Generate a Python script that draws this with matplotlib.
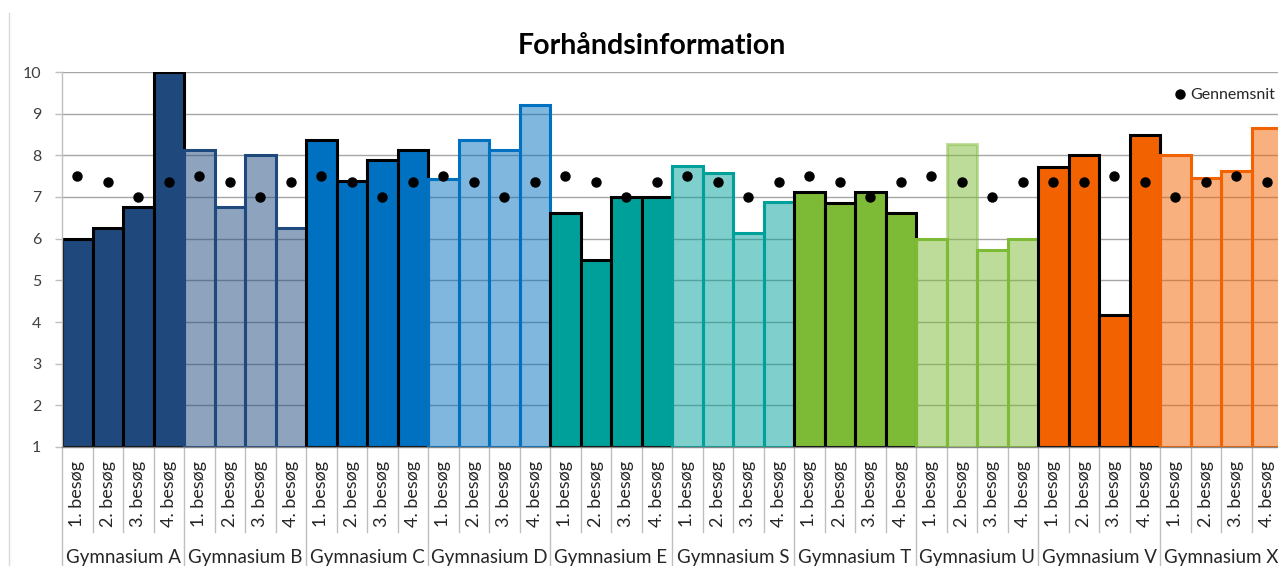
import matplotlib
matplotlib.use("Agg")
import matplotlib.pyplot as plt
import matplotlib.transforms as mtransforms
from matplotlib.colors import to_rgba
from matplotlib.lines import Line2D

plt.rcParams['font.family'] = ['Lato', 'DejaVu Sans']

# ---------------- data ----------------
title = "Forhåndsinformation"
groups = ["Gymnasium A", "Gymnasium B", "Gymnasium C", "Gymnasium D", "Gymnasium E",
          "Gymnasium S", "Gymnasium T", "Gymnasium U", "Gymnasium V", "Gymnasium X"]
visits = ["1. besøg", "2. besøg", "3. besøg", "4. besøg"]

values_A = [6.00, 6.25, 6.75, 10.00]
values_B = [8.12, 6.75, 8.00, 6.25]
values_C = [8.38, 7.38, 7.88, 8.12]
values_D = [7.43, 8.38, 8.12, 9.21]
values_E = [6.62, 5.50, 7.00, 7.00]
values_S = [7.75, 7.58, 6.13, 6.89]
values_T = [7.12, 6.86, 7.12, 6.62]
values_U = [6.00, 8.27, 5.74, 6.00]
values_V = [7.73, 8.00, 4.16, 8.50]
values_X = [8.00, 7.45, 7.62, 8.65]

avg_A = [7.50, 7.37, 7.00, 7.37]
avg_B = [7.50, 7.37, 7.00, 7.37]
avg_C = [7.50, 7.37, 7.00, 7.37]
avg_D = [7.50, 7.37, 7.00, 7.37]
avg_E = [7.50, 7.37, 7.00, 7.37]
avg_S = [7.50, 7.37, 7.00, 7.37]
avg_T = [7.50, 7.37, 7.00, 7.37]
avg_U = [7.50, 7.37, 7.00, 7.37]
avg_V = [7.37, 7.37, 7.50, 7.37]
avg_X = [7.00, 7.37, 7.50, 7.37]

values = [values_A, values_B, values_C, values_D, values_E,
          values_S, values_T, values_U, values_V, values_X]
averages = [avg_A, avg_B, avg_C, avg_D, avg_E,
            avg_S, avg_T, avg_U, avg_V, avg_X]

yticks = [1, 2, 3, 4, 5, 6, 7, 8, 9, 10]
legend_label = "Gennemsnit"

# ---------------- style ----------------
base_colors = ["#1F497D", "#1F497D", "#0070C0", "#0070C0", "#00A09A",
               "#00A09A", "#7DBA35", "#7DBA35", "#F26200", "#F26200"]
light_group = [False, True, False, True, False, True, False, True, False, True]
faded_edge = {(7, 1)}  # group U, 2. besøg has a faded outline

W, H = 1278, 566
fig = plt.figure(figsize=(W / 100, H / 100), dpi=100)
ax = fig.add_axes([62 / W, 1 - 447 / H, (1282 - 62) / W, (447 - 72) / H])

grid_c = "#A6A6A6"
lw_edge = 2.2

x_all, avg_all, labels_all = [], [], []
for g, (vals, avgs) in enumerate(zip(values, averages)):
    base = base_colors[g]
    for k, v in enumerate(vals):
        x = g * len(visits) + k
        if light_group[g]:
            fc = to_rgba(base, 0.5)
            ec = to_rgba(base, 0.45) if (g, k) in faded_edge else to_rgba(base, 1.0)
        else:
            fc = base
            ec = "black"
        ax.bar(x, v - 1, bottom=1, width=1.0, color=fc, edgecolor=ec,
               linewidth=lw_edge, zorder=2)
        x_all.append(x)
        avg_all.append(avgs[k])
        labels_all.append(visits[k])

ax.plot(x_all, avg_all, linestyle="none", marker="o", markersize=6.5,
        color="black", zorder=4, label=legend_label)

n = len(x_all)
ax.set_xlim(-0.5, n - 0.5)
ax.set_ylim(1, 10)
ax.set_yticks(yticks)
ax.set_yticklabels([str(t) for t in yticks])
ax.set_xticks(x_all)
ax.set_xticklabels(labels_all, rotation=90, fontsize=13, color="#262626")
ax.tick_params(axis="x", length=0, pad=10)
ax.tick_params(axis="y", length=5, width=1, color="#BFBFBF", pad=10,
               labelsize=11.5, labelcolor="#404040")

ax.yaxis.grid(True, color=grid_c, linewidth=1.0, zorder=0.5)
ax.set_axisbelow(True)

for s in ["top", "right"]:
    ax.spines[s].set_visible(False)
ax.spines["left"].set_color("#BFBFBF")
ax.spines["left"].set_linewidth(1.0)
ax.spines["bottom"].set_color("#868686")
ax.spines["bottom"].set_linewidth(1.0)
ax.spines["bottom"].set_zorder(3)

# category separators
trans = mtransforms.blended_transform_factory(ax.transData, ax.transAxes)
ax_h_px = 447 - 72
inner_len = (532 - 447) / ax_h_px
outer_len = (H - 447 + 5) / ax_h_px
for i in range(n + 1):
    xb = i - 0.5
    is_group = (i % len(visits) == 0)
    y0 = -outer_len if is_group else -inner_len
    ax.add_line(Line2D([xb, xb], [0, y0], transform=trans, color="#BFBFBF",
                       linewidth=1.0, clip_on=False, zorder=1))

# group labels
for g, name in enumerate(groups):
    xc = g * len(visits) + (len(visits) - 1) / 2
    ax.text(xc, -(558 - 447) / ax_h_px, name, transform=trans, ha="center",
            va="center", fontsize=13.5, color="#262626")

# title
fig.text(652 / W, 1 - 46 / H, title, ha="center", va="center",
         fontsize=20.5, fontweight="bold", color="black")

# legend
ax.legend(loc="center left", bbox_to_anchor=(1174 / W, 1 - 95 / H),
          bbox_transform=fig.transFigure, frameon=False, fontsize=11.5,
          handlelength=0.7, handletextpad=0.3, borderpad=0, borderaxespad=0,
          labelcolor="#262626")

# chart border at left
fig.add_artist(Line2D([9 / W, 9 / W], [1 - 13 / H, 0], transform=fig.transFigure,
                      color="#D9D9D9", linewidth=1.0))

fig.savefig("out.png", dpi=100, facecolor="white")
